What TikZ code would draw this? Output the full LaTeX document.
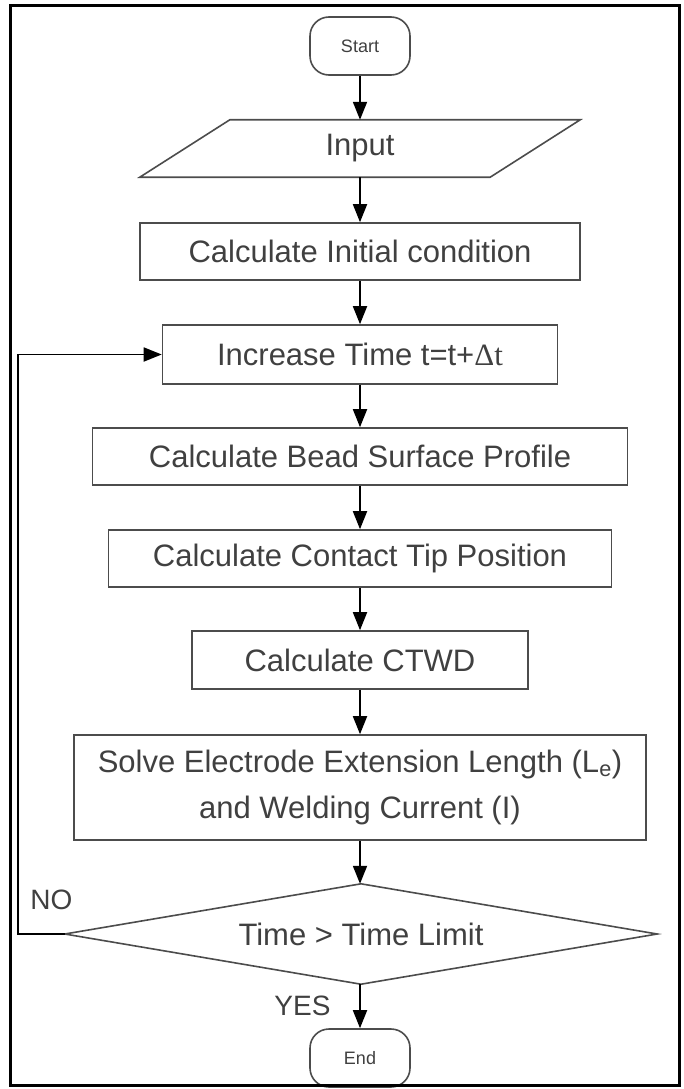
\documentclass[tikz,border=0pt]{standalone}
\usepackage{fontspec}
\setmainfont{Liberation Sans}
\newfontfamily\deltafont{Liberation Serif}
\usetikzlibrary{arrows.meta}

\begin{document}
\begin{tikzpicture}[x=1pt,y=-1pt,
  outline/.style={draw=black!70, line width=1.6pt, inner sep=0pt, text=black!75},
  edge/.style={draw=black!70, line width=1.6pt},
  proc/.style={outline, rectangle, font=\fontsize{31}{46}\selectfont, align=center},
  terminal/.style={outline, rectangle, rounded corners=19pt, font=\fontsize{18}{20}\selectfont,
    minimum width=100pt, minimum height=58pt},
  bare/.style={inner sep=0pt, text=black!75, font=\fontsize{31}{46}\selectfont},
  tag/.style={inner sep=0pt, text=black!75, font=\fontsize{28}{30}\selectfont},
  flow/.style={draw=black, line width=1.8pt, -{Triangle[length=18pt,width=14pt]}}
]
\useasboundingbox (0,0) rectangle (684,1089);

% terminals
\node[terminal] (start) at (360,46) {Start};
\node[terminal] (stop) at (360,1058) {End};

% input parallelogram: text node, outline drawn from its corners
\node[bare, minimum width=440pt, minimum height=57pt] (input) at (360,148.5) {Input};
\draw[edge] (input.south west) -- ([xshift=-90pt]input.south east)
  -- (input.north east) -- ([xshift=90pt]input.north west) -- cycle;

% process boxes
\node[proc, minimum width=440pt, minimum height=57pt] (init) at (360,251.5) {Calculate Initial condition};
\node[proc, minimum width=395pt, minimum height=59pt] (inc) at (360,354.5) {Increase Time t=t+{\deltafont Δt}};
\node[proc, minimum width=535pt, minimum height=57pt] (bead) at (360,456.5) {Calculate Bead Surface Profile};
\node[proc, minimum width=503pt, minimum height=57pt] (tip) at (360,558.5) {Calculate Contact Tip Position};
\node[proc, minimum width=336pt, minimum height=58pt] (ctwd) at (360,660) {Calculate CTWD};
\node[proc, minimum width=572pt, minimum height=105pt] (solve) at (360,787.5)
  {Solve Electrode Extension Length (L\textsubscript{e})\\and Welding Current (I)};

% decision: text node, rhombus drawn through its side midpoints
\node[bare, minimum width=592pt, minimum height=100pt] (cond) at (361,934) {Time > Time Limit};
\draw[edge] (cond.north) -- (cond.east) -- (cond.south) -- (cond.west) -- cycle;

% branch labels
\node[tag] (no) at (51.5,899.5) {NO};
\node[tag] (yes) at (302.5,1005.5) {YES};

% main flow
\draw[flow] (start) -- (input);
\draw[flow] (input) -- (init);
\draw[flow] (init) -- (inc);
\draw[flow] (inc) -- (bead);
\draw[flow] (bead) -- (tip);
\draw[flow] (tip) -- (ctwd);
\draw[flow] (ctwd) -- (solve);
\draw[flow] (solve.south) -- (solve.south |- cond.north);
\draw[flow] (cond.south -| stop.north) -- (stop);

% loop back
\coordinate (back) at (18,934);
\draw[flow] (cond.west) -- (back) |- (inc.west);

% outer frame
\draw[line width=3pt] (10.5,5.5) rectangle (679.5,1085.5);
\end{tikzpicture}
\end{document}
